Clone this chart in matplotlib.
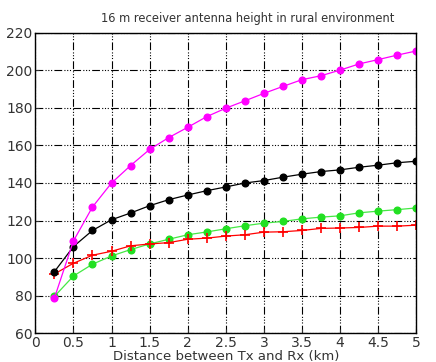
import matplotlib
matplotlib.use('Agg')
import matplotlib.pyplot as plt

# distance between Tx and Rx (km)
dist = [0.25, 0.5, 0.75, 1.0, 1.25, 1.5, 1.75, 2.0, 2.25, 2.5,
        2.75, 3.0, 3.25, 3.5, 3.75, 4.0, 4.25, 4.5, 4.75, 5.0]

# path loss curves
magenta_vals = [78.6, 109.1, 127.2, 140.0, 149.3, 157.9, 164.2, 169.7, 175.4, 179.9,
                183.8, 187.8, 191.5, 195.1, 197.2, 200.2, 203.5, 205.8, 208.2, 210.4]
black_vals = [92.7, 106.1, 114.7, 120.4, 124.0, 127.9, 131.1, 133.6, 135.9, 137.9,
              140.0, 141.3, 143.1, 144.7, 146.1, 147.0, 148.4, 149.5, 150.8, 151.6]
green_vals = [79.5, 90.4, 96.7, 101.1, 104.5, 107.5, 110.0, 112.4, 113.9, 115.6,
              117.2, 118.6, 119.5, 120.9, 121.8, 122.5, 124.1, 125.0, 125.8, 126.7]
red_vals = [91.5, 97.2, 101.5, 103.6, 106.5, 107.5, 108.2, 110.0, 110.6, 111.7,
            112.4, 113.8, 114.0, 114.7, 115.8, 116.0, 116.3, 117.0, 117.0, 117.5]

xticks = [0, 0.5, 1, 1.5, 2, 2.5, 3, 3.5, 4, 4.5, 5]
xticklabels = ['0', '0.5', '1', '1.5', '2', '2.5', '3', '3.5', '4', '4.5', '5']
yticks = [60, 80, 100, 120, 140, 160, 180, 200, 220]

fig = plt.figure(figsize=(4.36, 3.62), dpi=100)
ax = fig.add_axes([0.081, 0.080, 0.874, 0.829])

ax.plot(dist, green_vals, color='#44e844', lw=0.9, marker='o', ms=4.8,
        mfc='#22e022', mec='#22e022')
ax.plot(dist, red_vals, color='#ff0000', lw=0.9, marker='+', ms=7, mew=1.2)
ax.plot(dist, black_vals, color='black', lw=0.9, marker='o', ms=4.8)
ax.plot(dist, magenta_vals, color='#ff00ff', lw=0.9, marker='o', ms=4.8)

ax.set_xlim(0, 5)
ax.set_ylim(60, 220)
ax.set_xticks(xticks)
ax.set_xticklabels(xticklabels)
ax.set_yticks(yticks)
ax.grid(True, color='black', lw=0.8, linestyle=(0, (7, 2, 1, 1.5, 1, 1.5, 1, 2)))
ax.tick_params(direction='in', length=3, labelsize=10, pad=2, colors='#333333')
for s in ax.spines.values():
    s.set_linewidth(1.0)

ax.set_xlabel('Distance between Tx and Rx (km)', fontsize=9.5, labelpad=0, color='#333333')
fig.text(0.567, 0.948, '16 m receiver antenna height in rural environment',
         ha='center', va='center', fontsize=8.3, color='#333333')

plt.savefig('out.png', dpi=100)
